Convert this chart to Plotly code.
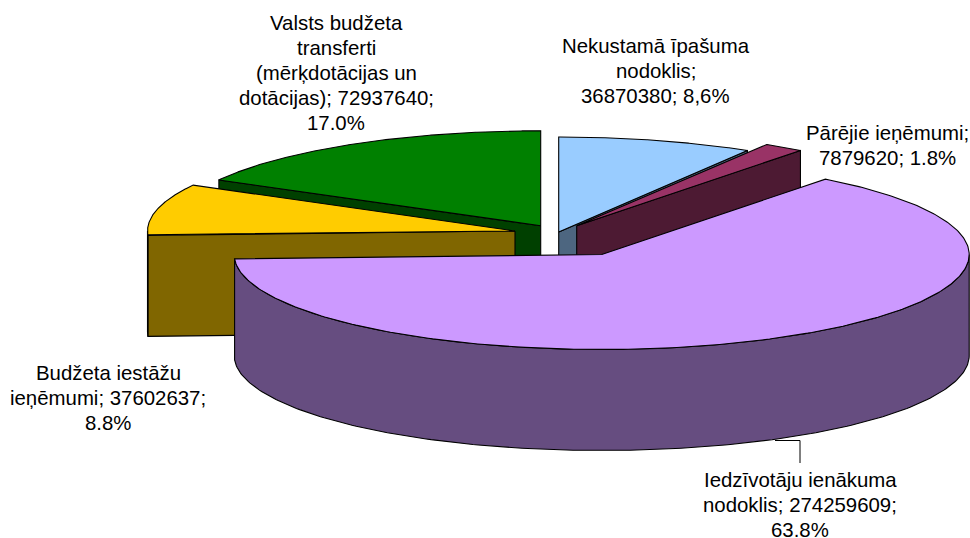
import numpy as np
import plotly.graph_objects as go

# --- data ---
label_lines = [
    "Nekustamā īpašuma<br>nodoklis;<br>{v}; {p}",
    "Pārējie ieņēmumi;<br>{v}; {p}",
    "Iedzīvotāju ienākuma<br>nodoklis; {v};<br>{p}",
    "Budžeta iestāžu<br>ieņēmumi; {v};<br>{p}",
    "Valsts budžeta<br>transferti<br>(mērķdotācijas un<br>dotācijas); {v};<br>{p}",
]
values = [36870380, 7879620, 274259609, 37602637, 72937640]
percent_text = ["8,6%", "1.8%", "63.8%", "8.8%", "17.0%"]

# --- styles and layout ---
top_colors = ["#99CCFF", "#993366", "#CC99FF", "#FFCC00", "#008000"]
wall_colors = ["#4D6680", "#4D1A33", "#664D80", "#806600", "#004000"]
apex_x = [558.7, 576.7, 601.7, 515.0, 540.7]
apex_y = [232.0, 225.8, 254.5, 231.0, 225.8]
front_edge = [1, 1, None, 0, 0]  # which radial edge of each slice faces the viewer
label_x = [655.5, 887, 800, 108, 336]
label_y = [71, 145.5, 504.5, 398, 72.5]
LINE_GAP = 25
RX, RY, DEPTH = 367.5, 95.0, 101.0
draw_order = [4, 3, 0, 1, 2]
FONT = dict(family="Liberation Sans, Arial, sans-serif", size=20.4, color="#000000")

total = sum(values)
edges = 2 * np.pi * np.concatenate([[0], np.cumsum(values)]) / total


def rim(i, a):
    return apex_x[i] + RX * np.sin(a), apex_y[i] - RY * np.cos(a)


def poly(xs, ys, color, name):
    return go.Scatter(
        x=xs, y=ys, mode="lines", fill="toself", fillcolor=color, name=name,
        line=dict(color="#000000", width=1.1), hoverinfo="name", showlegend=False,
    )


fig = go.Figure()
for i in draw_order:
    a0, a1 = edges[i], edges[i + 1]
    name = label_lines[i].split("<br>")[0]
    # radial side wall on the edge that faces the viewer
    if front_edge[i] is not None:
        ex, ey = rim(i, edges[i + front_edge[i]])
        fig.add_trace(poly(
            [apex_x[i], ex, ex, apex_x[i], apex_x[i]],
            [apex_y[i], ey, ey + DEPTH, apex_y[i] + DEPTH, apex_y[i]],
            wall_colors[i], name))
    # outer curved wall on the near half of the rim
    lo, hi = max(a0, np.pi / 2), min(a1, 3 * np.pi / 2)
    if hi > lo:
        t = np.linspace(lo, hi, 200)
        rx_, ry_ = rim(i, t)
        fig.add_trace(poly(
            np.concatenate([rx_, rx_[::-1], rx_[:1]]),
            np.concatenate([ry_, ry_[::-1] + DEPTH, ry_[:1]]),
            wall_colors[i], name))
    # top face
    t = np.linspace(a0, a1, 300)
    rx_, ry_ = rim(i, t)
    fig.add_trace(poly(
        np.concatenate([[apex_x[i]], rx_, [apex_x[i]]]),
        np.concatenate([[apex_y[i]], ry_, [apex_y[i]]]),
        top_colors[i], name))

# leader line of the largest slice
fig.add_trace(go.Scatter(
    x=[775, 800, 800], y=[440.5, 440.5, 463], mode="lines",
    line=dict(color="#000000", width=1), hoverinfo="skip", showlegend=False,
))

for i, tmpl in enumerate(label_lines):
    rows = tmpl.format(v=values[i], p=percent_text[i]).split("<br>")
    for j, row in enumerate(rows):
        fig.add_annotation(
            x=label_x[i], y=label_y[i] + (j - (len(rows) - 1) / 2) * LINE_GAP,
            xref="x", yref="y", showarrow=False,
            xanchor="center", yanchor="middle", align="center", font=FONT,
            text=row,
        )

fig.update_layout(
    width=970, height=538, margin=dict(l=0, r=0, t=0, b=0),
    paper_bgcolor="#FFFFFF", plot_bgcolor="#FFFFFF", showlegend=False,
    xaxis=dict(range=[0, 970], visible=False, fixedrange=True),
    yaxis=dict(range=[538, 0], visible=False, fixedrange=True),
)
fig.write_html(
    "out.html", config=dict(displayModeBar=False),
    post_script="document.body.style.margin='0';document.body.style.overflow='hidden';",
)
